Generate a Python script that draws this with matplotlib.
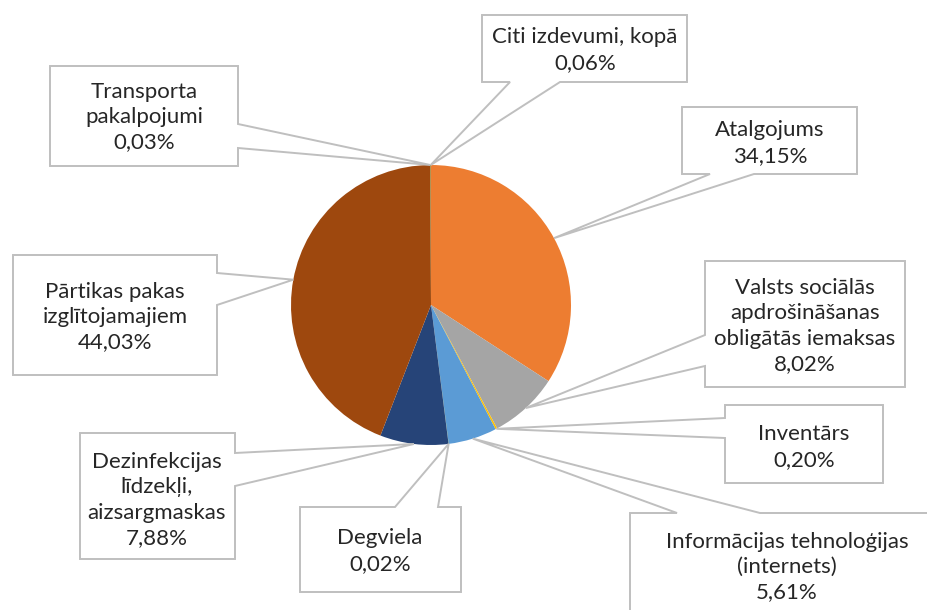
import matplotlib.pyplot as plt
import numpy as np
from matplotlib.patches import Polygon

# ------------------------
# Data
# ------------------------
labels = [
    "Atalgojums",
    "Valsts sociālās\napdrošināšanas\nobligātās iemaksas",
    "Inventārs",
    "Informācijas tehnoloģijas\n(internets)",
    "Degviela",
    "Dezinfekcijas\nlīdzekļi,\naizsargmaskas",
    "Pārtikas pakas\nizglītojamajiem",
    "Transporta\npakalpojumi",
    "Citi izdevumi, kopā",
]
shares = [34.15, 8.02, 0.20, 5.61, 0.02, 7.88, 44.03, 0.03, 0.06]
colors = ["#ED7D31", "#A5A5A5", "#FFC000", "#5B9BD5", "#70AD47",
          "#264478", "#9E480E", "#636363", "#997300"]

# ------------------------
# Label layout (pixels, y down): box, side of pointer, pointer base, text centre
# ------------------------
W, H = 928, 610
boxes = [
    ((682, 107, 857, 174), "bottom", (710, 754), (770, 143)),
    ((705, 261, 905, 387), "left", (335, 366), (805, 326)),
    ((725, 405, 883, 483), "left", (418, 438), (804, 447)),
    ((630, 513, 960, 650), "top", (677, 760), (787, 567)),
    ((300, 507, 461, 592), "top", (395, 438), (380, 551)),
    ((80, 433, 235, 559), "right", (453, 486), (157, 500)),
    ((13, 255, 217, 375), "right", (273, 305), (115, 317)),
    ((50, 66, 238, 166), "right", (124, 148), (144, 117)),
    ((482, 15, 687, 82), "bottom", (510, 560), (585, 50)),
]

center = (431, H - 305)
radius = 140


def callout(box, side, base, anchor):
    # anchor and box both in pixels, y down
    l, t, r, b = box
    t0, t1 = base
    a = anchor
    if side == "top":
        pts = [(l, t), (t0, t), a, (t1, t), (r, t), (r, b), (l, b)]
    elif side == "right":
        pts = [(l, t), (r, t), (r, t0), a, (r, t1), (r, b), (l, b)]
    elif side == "bottom":
        pts = [(l, t), (r, t), (r, b), (t1, b), a, (t0, b), (l, b)]
    else:
        pts = [(l, t), (r, t), (r, b), (l, b), (l, t1), a, (l, t0)]
    return [(x, H - y) for x, y in pts]


# ------------------------
# Plot
# ------------------------
fig = plt.figure(figsize=(W / 100, H / 100), dpi=100)
ax = fig.add_axes([0, 0, 1, 1])

wedges, _ = ax.pie(shares, colors=colors, startangle=90, counterclock=False,
                   center=center, radius=radius, frame=True)
ax.set_xlim(0, W)
ax.set_ylim(0, H)
ax.set_aspect("equal")
ax.axis("off")

for w, lab, val, (box, side, base, txt) in zip(wedges, labels, shares, boxes):
    mid = np.deg2rad((w.theta1 + w.theta2) / 2)
    anchor = (center[0] + radius * np.cos(mid), H - (center[1] + radius * np.sin(mid)))
    poly = Polygon(callout(box, side, base, anchor), closed=True,
                   facecolor="white", edgecolor="#BFBFBF", linewidth=1.4, zorder=3)
    ax.add_patch(poly)
    pct = f"{val:.2f}%".replace(".", ",")
    ax.text(txt[0], H - txt[1], lab + "\n" + pct, ha="center", va="center",
            fontsize=16, family="Lato", color="#262626", linespacing=1.33, zorder=4)

plt.savefig("out.png", dpi=100)
